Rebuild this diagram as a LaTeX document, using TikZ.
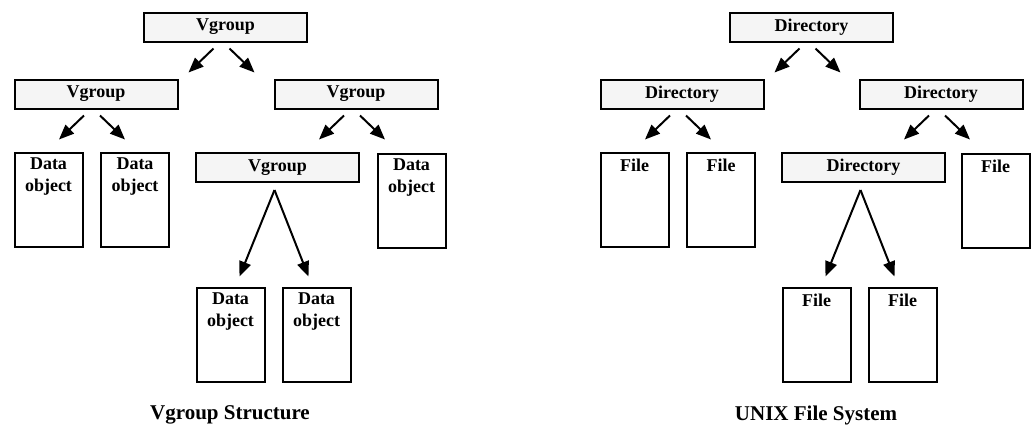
\documentclass[tikz,border=0pt]{standalone}
\usepackage{fontspec}
\setmainfont{Liberation Serif}
\usetikzlibrary{positioning, calc, arrows.meta}
\tikzset{
    grp/.style={draw, fill=gray!8, line width=2pt, minimum width=163pt, minimum height=29pt, inner sep=0pt,
        font=\bfseries\fontsize{18}{21.6}\selectfont},
    obj/.style={draw, line width=2pt, minimum width=68pt, minimum height=94pt, inner sep=0pt},
    objtext/.style={anchor=north, inner sep=0pt, align=center, font=\bfseries\fontsize{18}{21.6}\selectfont},
    arr/.style={-{Triangle[length=15pt,width=12pt]}, line width=2pt},
    caption/.style={font=\bfseries\fontsize{21}{25}\selectfont}
}

\begin{document}
\begin{tikzpicture}[x=1pt, y=-1pt]
            \useasboundingbox (0,0) rectangle (1031,426);
            \begin{scope}
                \node[grp] (G0) at (225.5,27){Vgroup};
                \node[grp] (G1) at (96,94){Vgroup};
                \node[grp] (G2) at (356,94){Vgroup};
                \node[grp] (G3) at (277.5,167.5){Vgroup};
                \node[obj] (D1) at (48.5,200){};
                \node[obj] (D2) at (135,200){};
                \node[obj] (D3) at (411.5,201){};
                \node[obj] (D4) at (230.5,334.5){};
                \node[obj] (D5) at (316.5,334.5){};
                \node[objtext] (T1) at ($(D1.north)+(0,6)$){Data\\object};
                \node[objtext] (T2) at ($(D2.north)+(0,6)$){Data\\object};
                \node[objtext] (T3) at ($(D3.north)+(0,6)$){Data\\object};
                \node[objtext] (T4) at ($(D4.north)+(0,6)$){Data\\object};
                \node[objtext] (T5) at ($(D5.north)+(0,6)$){Data\\object};
                \draw[arr] ($(G0.south)+(-12,6)$) -- ++(-25,24);
                \draw[arr] ($(G0.south)+(4,6)$) -- ++(25,24);
                \draw[arr] ($(G1.south)+(-12,6)$) -- ++(-25,24);
                \draw[arr] ($(G1.south)+(4,6)$) -- ++(25,24);
                \draw[arr] ($(G2.south)+(-12,6)$) -- ++(-25,24);
                \draw[arr] ($(G2.south)+(4,6)$) -- ++(25,24);
                \coordinate (P) at ($(G3.south)+(-3,7)$);
                \draw[arr] (P) -- ($(D4.north)+(9,-10)$);
                \draw[arr] (P) -- ($(D5.north)+(-8,-10)$);
                \node[caption] (C1) at (230,415){Vgroup Structure};
            \end{scope}
            \begin{scope}[shift={(586,0)}]
                \node[grp] (H0) at (225.5,27){Directory};
                \node[grp] (H1) at (96,94){Directory};
                \node[grp] (H2) at (355,94){Directory};
                \node[grp] (H3) at (277.5,167.5){Directory};
                \node[obj] (F1) at (48.5,200){};
                \node[obj] (F2) at (135,200){};
                \node[obj] (F3) at (409.5,201){};
                \node[obj] (F4) at (230.5,334.5){};
                \node[obj] (F5) at (316.5,334.5){};
                \node[objtext] (U1) at ($(F1.north)+(0,7)$){File};
                \node[objtext] (U2) at ($(F2.north)+(0,7)$){File};
                \node[objtext] (U3) at ($(F3.north)+(0,7)$){File};
                \node[objtext] (U4) at ($(F4.north)+(0,7)$){File};
                \node[objtext] (U5) at ($(F5.north)+(0,7)$){File};
                \draw[arr] ($(H0.south)+(-12,6)$) -- ++(-25,24);
                \draw[arr] ($(H0.south)+(4,6)$) -- ++(25,24);
                \draw[arr] ($(H1.south)+(-12,6)$) -- ++(-25,24);
                \draw[arr] ($(H1.south)+(4,6)$) -- ++(25,24);
                \draw[arr] ($(H2.south)+(-12,6)$) -- ++(-25,24);
                \draw[arr] ($(H2.south)+(4,6)$) -- ++(25,24);
                \coordinate (Q) at ($(H3.south)+(-3,7)$);
                \draw[arr] (Q) -- ($(F4.north)+(9,-10)$);
                \draw[arr] (Q) -- ($(F5.north)+(-8,-10)$);
                \node[caption] (C2) at (230,415){UNIX File System};
            \end{scope}
        \end{tikzpicture}
\end{document}
